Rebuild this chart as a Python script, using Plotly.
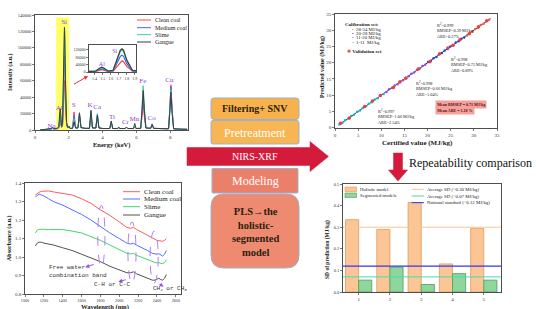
import plotly.graph_objects as go

W, H = 536, 309
def px(x): return x / W
def py(y): return 1 - y / H

SERIF = "Liberation Serif"
MONO = "Liberation Mono"

# ---------------- data: XRF spectra ----------------
xrf_energy = [0.30, 0.85, 0.97, 1.04, 1.11, 1.30, 1.41, 1.46, 1.49, 1.52, 1.57, 1.63, 1.68, 1.72, 1.74, 1.76,
              1.80, 1.87, 1.95, 2.01, 2.07, 2.22, 2.31, 2.40, 2.54, 2.63, 2.72, 2.95, 3.22, 3.31, 3.40, 3.60,
              3.69, 3.78, 4.00, 4.42, 4.51, 4.60, 4.87, 4.95, 5.03, 5.33, 5.41, 5.49, 5.82, 5.90, 5.98, 6.25,
              6.33, 6.40, 6.47, 6.56, 6.84, 6.93, 7.02, 7.50, 7.90, 7.97, 8.04, 8.11, 8.20, 8.60, 9.00]
xrf_clean = [0, 600, 1200, 2500, 1200, 1500, 2500, 9000, 12000, 9000, 3000, 5000, 30000, 55000, 60000, 55000,
             30000, 5000, 2500, 4000, 2000, 2000, 22000, 2500, 2500, 18000, 3000, 2000, 2000, 16000, 2500, 2500,
             17000, 2500, 1800, 1800, 7000, 1800, 1800, 3000, 1800, 1800, 3500, 1800, 1800, 3500, 1800, 2000,
             16000, 32000, 16000, 2500, 2000, 7500, 2000, 1500, 1500, 25000, 55000, 25000, 1500, 1000, 800]
xrf_medium = [0, 600, 1200, 2200, 1200, 1600, 3000, 13000, 17000, 13000, 3500, 6000, 45000, 84000, 90000, 84000,
              45000, 6000, 2500, 4000, 2000, 2000, 18000, 2500, 2500, 19000, 3000, 2000, 2000, 20000, 2500, 2500,
              19000, 2500, 1800, 1800, 9000, 1800, 1800, 3000, 1800, 1800, 3000, 1800, 1800, 4000, 1800, 2000,
              21000, 42000, 21000, 2500, 2000, 7000, 2000, 1500, 1500, 24000, 53000, 24000, 1500, 1000, 800]
xrf_slime = [0, 700, 1500, 2800, 1500, 1800, 3500, 17000, 22000, 17000, 4000, 8000, 60000, 110000, 118000, 110000,
             60000, 8000, 3000, 4500, 2000, 2000, 14000, 2500, 2500, 20000, 3000, 2000, 2000, 23000, 2500, 2500,
             20000, 2500, 1800, 1800, 10000, 1800, 1800, 3000, 1800, 1800, 3000, 1800, 1800, 4000, 1800, 2000,
             27000, 54000, 27000, 2500, 2000, 7000, 2000, 1500, 1500, 22000, 49000, 22000, 1500, 1000, 800]
xrf_gangue = [0, 800, 1800, 3200, 1800, 2000, 4000, 20000, 26000, 20000, 4500, 9000, 64000, 118000, 125000, 118000,
              64000, 9000, 3000, 4500, 2000, 2000, 10000, 2500, 2500, 21000, 3000, 2000, 2000, 24000, 2500, 2500,
              18000, 2500, 1800, 1800, 11000, 1800, 1800, 3000, 1800, 1800, 3500, 1800, 1800, 8000, 1800, 2000,
              24000, 48000, 24000, 2500, 2000, 6500, 2000, 1500, 1500, 20000, 46000, 20000, 1500, 1000, 800]

elem_names = ["Na", "Al", "S", "K", "Ca", "Ti", "Cr", "Mn", "Fe", "Co", "Cu"]
elem_x = [0.98, 1.43, 2.29, 3.25, 3.68, 4.55, 5.35, 5.88, 6.38, 6.9, 7.95]
elem_y = [5000, 26000, 30000, 30000, 28000, 16000, 8900, 13400, 59600, 14200, 60800]

series_names = ["Clean coal", "Medium coal", "Slime", "Gangue"]

# ---------------- data: NIR spectra ----------------
nir_wavelength = [1110, 1130, 1150, 1175, 1200, 1250, 1300, 1400, 1500, 1600, 1700, 1800, 1900, 2000,
                  2080, 2120, 2150, 2180, 2250, 2300, 2350, 2380, 2400, 2420, 2440, 2460, 2480, 2500]
nir_clean = [1.335, 1.345, 1.350, 1.355, 1.357, 1.357, 1.352, 1.345, 1.335, 1.315, 1.290, 1.255, 1.225, 1.190,
             1.160, 1.155, 1.160, 1.150, 1.130, 1.115, 1.100, 1.095, 1.090, 1.088, 1.085, 1.085, 1.090, 1.100]
nir_medium = [1.325, 1.335, 1.340, 1.335, 1.330, 1.315, 1.300, 1.280, 1.255, 1.230, 1.200, 1.165, 1.130, 1.100,
              1.075, 1.070, 1.075, 1.065, 1.050, 1.035, 1.020, 1.015, 1.015, 1.018, 1.010, 1.005, 1.015, 1.035]
nir_slime = [1.130, 1.145, 1.150, 1.152, 1.150, 1.148, 1.148, 1.148, 1.140, 1.130, 1.110, 1.090, 1.065, 1.040,
             1.020, 1.017, 1.020, 1.010, 0.995, 0.985, 0.975, 0.970, 0.968, 0.970, 0.965, 0.965, 0.970, 0.985]
nir_gangue = [1.060, 1.075, 1.080, 1.080, 1.075, 1.070, 1.065, 1.050, 1.035, 1.015, 0.995, 0.975, 0.950, 0.930,
              0.915, 0.915, 0.920, 0.910, 0.895, 0.885, 0.875, 0.875, 0.878, 0.885, 0.878, 0.875, 0.885, 0.905]

# ---------------- data: calibration / validation ----------------
cal_1_11_x = [1.0, 1.6, 2.2, 2.9, 3.5, 4.1, 4.8, 5.4, 6.0, 6.7, 7.3, 7.9, 8.6, 9.2, 9.8, 10.5]
cal_1_11_y = [1.1, 1.5, 2.3, 2.8, 3.6, 4.0, 4.9, 5.3, 6.1, 6.6, 7.4, 7.8, 8.7, 9.1, 9.9, 10.4]
cal_11_20_x = [11.1, 11.7, 12.3, 12.9, 13.5, 14.1, 14.7, 15.3, 15.9, 16.5, 17.1, 17.7, 18.3, 18.9, 19.5]
cal_11_20_y = [11.0, 11.8, 12.2, 13.0, 13.4, 14.2, 14.6, 15.4, 15.8, 16.6, 17.0, 17.8, 18.2, 19.0, 19.4]
cal_20_28_x = [20.1, 20.7, 21.3, 21.9, 22.5, 23.1, 23.7, 24.3, 24.9, 25.5, 26.1, 26.7, 27.3, 27.9]
cal_20_28_y = [20.2, 20.6, 21.4, 21.8, 22.6, 23.0, 23.8, 24.2, 25.0, 25.4, 26.2, 26.6, 27.4, 27.8]
cal_28_34_x = [28.5, 29.1, 29.7, 30.3, 30.9, 31.5, 32.1, 32.7, 33.3]
cal_28_34_y = [28.4, 29.2, 29.6, 30.4, 30.8, 31.6, 32.0, 32.8, 33.2]
val_x = [1.2, 3.1, 6.4, 8.1, 9.8, 12.6, 14.0, 15.3, 18.0, 20.5, 22.6, 24.4, 25.5, 27.0, 29.0, 31.0, 32.8]
val_y = [1.4, 3.0, 6.5, 8.2, 9.9, 12.4, 14.1, 15.2, 18.1, 20.3, 22.8, 24.5, 25.4, 27.1, 28.9, 31.1, 32.9]
ref_line = [0.8, 33.6]

# ---------------- data: repeatability ----------------
bar_samples = [1, 2, 3, 4, 5]
sd_holistic = [0.335, 0.29, 0.415, 0.13, 0.295]
sd_segmented = [0.055, 0.115, 0.035, 0.085, 0.055]
avg_sd_holistic = 0.30
avg_sd_segmented = 0.07
national_standard = 0.12

fig = go.Figure()

# XRF main + inset
xrf_colors = ["#FF4545", "#4F5CFF", "#2ED6A8", "#3C3C3C"]
for vals, c in zip([xrf_clean, xrf_medium, xrf_slime, xrf_gangue], xrf_colors):
    fig.add_trace(go.Scatter(x=xrf_energy, y=vals, mode="lines", line=dict(color=c, width=1),
                             xaxis="x", yaxis="y", showlegend=False, hoverinfo="skip"))
for vals, c in zip([xrf_clean, xrf_medium, xrf_slime, xrf_gangue], xrf_colors):
    fig.add_trace(go.Scatter(x=xrf_energy, y=vals, mode="lines", line=dict(color=c, width=1.2),
                             xaxis="x5", yaxis="y5", showlegend=False, hoverinfo="skip"))
ELEM = "#8A3FD1"
fig.add_trace(go.Scatter(x=elem_x, y=elem_y, mode="text", text=elem_names,
                         textfont=dict(family=SERIF, size=7, color=ELEM),
                         xaxis="x", yaxis="y", showlegend=False, hoverinfo="skip"))
fig.add_trace(go.Scatter(x=[1.72], y=[131000], mode="text", text=["Si"],
                         textfont=dict(family=SERIF, size=7, color=ELEM),
                         xaxis="x", yaxis="y", showlegend=False, hoverinfo="skip"))
fig.add_trace(go.Scatter(x=[1.49, 1.65], y=[38000, 109000], mode="text", text=["Al", "Si"],
                         textfont=dict(family=SERIF, size=6, color=ELEM),
                         xaxis="x5", yaxis="y5", showlegend=False, hoverinfo="skip"))

# NIR
nir_colors = ["#FF5A5A", "#5570FF", "#45D46A", "#505050"]
for vals, c in zip([nir_clean, nir_medium, nir_slime, nir_gangue], nir_colors):
    fig.add_trace(go.Scatter(x=nir_wavelength, y=vals, mode="lines", line=dict(color=c, width=1),
                             xaxis="x2", yaxis="y2", showlegend=False, hoverinfo="skip"))

# Calibration scatter
fig.add_trace(go.Scatter(x=ref_line, y=ref_line, mode="lines", line=dict(color="#1F2F8F", width=1),
                         xaxis="x3", yaxis="y3", showlegend=False, hoverinfo="skip"))
for xs, ys, c in [(cal_1_11_x, cal_1_11_y, "#1FB5B5"), (cal_11_20_x, cal_11_20_y, "#8E4FD6"),
                  (cal_20_28_x, cal_20_28_y, "#2445C8"), (cal_28_34_x, cal_28_34_y, "#E0653A")]:
    fig.add_trace(go.Scatter(x=xs, y=ys, mode="markers", marker=dict(color=c, size=2.5),
                             xaxis="x3", yaxis="y3", showlegend=False, hoverinfo="skip"))
fig.add_trace(go.Scatter(x=val_x, y=val_y, mode="markers",
                         marker=dict(color="#F03C3C", size=3.5, symbol="circle"),
                         xaxis="x3", yaxis="y3", showlegend=False, hoverinfo="skip"))

# Bars
fig.add_trace(go.Bar(x=bar_samples, y=sd_holistic, marker=dict(color="#FBC596", line=dict(color="#E09A5A", width=0.8)),
                     xaxis="x4", yaxis="y4", showlegend=False, hoverinfo="skip", offsetgroup="h"))
fig.add_trace(go.Bar(x=bar_samples, y=sd_segmented, marker=dict(color="#8FD69C", line=dict(color="#4E9A5E", width=0.8)),
                     xaxis="x4", yaxis="y4", showlegend=False, hoverinfo="skip", offsetgroup="s"))
for val, c, w in [(avg_sd_holistic, "#FBC596", 1), (avg_sd_segmented, "#3EE0B0", 1), (national_standard, "#3535F0", 1.3)]:
    fig.add_trace(go.Scatter(x=[0.5, 5.55], y=[val, val], mode="lines", line=dict(color=c, width=w),
                             xaxis="x4", yaxis="y4", showlegend=False, hoverinfo="skip"))

def ax(domain, rng, anchor, size=5, **kw):
    d = dict(domain=domain, range=rng, anchor=anchor, showline=True, linecolor="#222", linewidth=0.8,
             mirror=True, ticks="outside", ticklen=2, tickwidth=0.6, tickcolor="#222", showgrid=False,
             zeroline=False, tickfont=dict(family=SERIF, size=size, color="#333"), fixedrange=True)
    d.update(kw)
    return d

layout = dict(
    width=W, height=H, margin=dict(l=0, r=0, t=0, b=0),
    paper_bgcolor="white", plot_bgcolor="white", template="none",
    barmode="group", bargap=0.16, bargroupgap=0, showlegend=False,
    xaxis=ax([px(35), px(188)], [0, 9.05], "y", tickvals=[0, 2, 4, 6, 8]),
    yaxis=ax([py(130), py(15)], [0, 140000], "x", tickvals=list(range(0, 140001, 20000)), tickformat="d", size=4.5),
    xaxis2=ax([px(25), px(181)], [1000, 2655], "y2", tick0=1000, dtick=200, tickformat="d", size=4.2),
    yaxis2=ax([py(294), py(183)], [0.8, 1.4], "x2", tick0=0.8, dtick=0.1, tickformat=".1f"),
    xaxis3=ax([px(335), px(497)], [0, 35], "y3", dtick=5),
    yaxis3=ax([py(127.7), py(14)], [0, 35], "x3", dtick=5),
    xaxis4=ax([px(343), px(501)], [0.5, 5.55], "y4", tickvals=bar_samples),
    yaxis4=ax([py(292), py(184)], [0, 0.5], "x4", dtick=0.1, tickformat=".1f", size=4.5),
    xaxis5=ax([px(89), px(136)], [1.33, 1.915], "y5", dtick=0.1, tickformat=".1f", size=4),
    yaxis5=ax([py(72), py(45)], [0, 145000], "x5", tickvals=[0, 40000, 80000, 120000], tickformat="d", size=4),
)

def P(points, closed=True):
    s = ""
    for i, (x, y) in enumerate(points):
        s += ("M" if i == 0 else "L") + f"{px(x):.5f},{py(y):.5f} "
    return s + ("Z" if closed else "")

def rrect(x0, y0, x1, y1, r):
    def f(x, y): return f"{px(x):.5f},{py(y):.5f}"
    return (f"M{f(x0 + r, y0)} L{f(x1 - r, y0)} Q{f(x1, y0)} {f(x1, y0 + r)} L{f(x1, y1 - r)} "
            f"Q{f(x1, y1)} {f(x1 - r, y1)} L{f(x0 + r, y1)} Q{f(x0, y1)} {f(x0, y1 - r)} "
            f"L{f(x0, y0 + r)} Q{f(x0, y0)} {f(x0 + r, y0)} Z")

shapes = []
# yellow highlight
shapes.append(dict(type="rect", xref="x", yref="y", x0=1.25, x1=2.02, y0=0, y1=137000,
                   fillcolor="#FFFF55", line=dict(width=0), layer="below", opacity=0.9))
# NIR ellipses
for (a, b, c, d) in [(1772, 1848, 0.945, 1.28), (2092, 2178, 0.86, 1.19), (2327, 2413, 0.86, 1.14)]:
    shapes.append(dict(type="circle", xref="x2", yref="y2", x0=a, x1=b, y0=c, y1=d,
                       line=dict(color="#B57BFF", width=1, dash="dash")))
# flowchart boxes
BORDER = dict(color="#9DB0CC", width=1)
shapes.append(dict(type="path", xref="paper", yref="paper", path=rrect(211, 98, 299, 119.5, 3),
                   fillcolor="#F7B24C", line=BORDER))
shapes.append(dict(type="path", xref="paper", yref="paper", path=rrect(211, 120.5, 299, 144, 2),
                   fillcolor="#F8B553", line=BORDER))
shapes.append(dict(type="path", xref="paper", yref="paper", path=rrect(212, 168.5, 298, 193, 1),
                   fillcolor="#EA806A", line=BORDER))
shapes.append(dict(type="path", xref="paper", yref="paper", path=rrect(211, 194, 299, 268, 13),
                   fillcolor="#EE8A70", line=BORDER))
# red arrows
RED = "#D41B3C"
shapes.append(dict(type="path", xref="paper", yref="paper", fillcolor=RED, line=dict(color=RED, width=0.5),
                   path=P([(187, 147.5), (310, 147.5), (310, 141.5), (328.5, 156.5),
                           (310, 171.5), (310, 165.5), (187, 165.5)])))
shapes.append(dict(type="path", xref="paper", yref="paper", fillcolor=RED, line=dict(color=RED, width=0.5),
                   path=P([(393.5, 153), (402.5, 153), (402.5, 170), (407.5, 170),
                           (398, 181), (388.5, 170), (393.5, 170)])))
# XRF legend lines
for yy, c in zip([20, 27.7, 34.7, 42], xrf_colors):
    shapes.append(dict(type="line", xref="paper", yref="paper", x0=px(137), x1=px(151), y0=py(yy), y1=py(yy),
                       line=dict(color=c, width=1)))
# NIR legend lines
for yy, c in zip([191.7, 199, 206.7, 215], nir_colors):
    shapes.append(dict(type="line", xref="paper", yref="paper", x0=px(123), x1=px(140), y0=py(yy), y1=py(yy),
                       line=dict(color=c, width=1)))
# Bar legend swatches and lines
shapes.append(dict(type="rect", xref="paper", yref="paper", x0=px(345), x1=px(356.5), y0=py(191.5), y1=py(187),
                   fillcolor="#FBC596", line=dict(color="#E09A5A", width=0.6)))
shapes.append(dict(type="rect", xref="paper", yref="paper", x0=px(345), x1=px(356.5), y0=py(197.5), y1=py(193),
                   fillcolor="#8FD69C", line=dict(color="#4E9A5E", width=0.6)))
for yy, c in zip([189.3, 196, 202.7], ["#FBC596", "#3EE0B0", "#3535F0"]):
    shapes.append(dict(type="line", xref="paper", yref="paper", x0=px(411.5), x1=px(424), y0=py(yy), y1=py(yy),
                       line=dict(color=c, width=1)))
layout["shapes"] = shapes

anns = []
def A(x, y, text, size=6, color="#222", xanchor="center", yanchor="middle", family=SERIF, angle=0, align="left", **kw):
    d = dict(x=px(x), y=py(y), xref="paper", yref="paper", text=text, showarrow=False, xanchor=xanchor,
             yanchor=yanchor, font=dict(family=family, size=size, color=color), textangle=angle, align=align)
    d.update(kw)
    anns.append(d)

# XRF titles and legend
A(10, 72, "<b>Intensity (a.u.)</b>", 6, angle=-90)
A(111, 145, "<b>Energy (keV)</b>", 6.5)
for yy, n in zip([20, 27.7, 34.7, 42], series_names):
    A(152.5, yy, n, 6, xanchor="left")
anns.append(dict(x=px(88), y=py(76), xref="paper", yref="paper", ax=-17, ay=10, showarrow=True,
                 arrowhead=2, arrowsize=0.8, arrowwidth=1, arrowcolor="#E8302E", text=" "))
# NIR titles and legend
A(9, 238, "<b>Absorbance (a.u.)</b>", 6, angle=-90)
A(105, 306.5, "<b>Wavelength (nm)</b>", 6.5)
for yy, n in zip([191.7, 199, 206.7, 215], series_names):
    A(142, yy, n, 7, xanchor="left")
anns.append(dict(x=1230, y=0.924, xref="x2", yref="y2", text="Free water<br>combination band", showarrow=False,
                 xanchor="left", align="left", font=dict(family=MONO, size=6, color="#333")))
anns.append(dict(x=1920, y=0.852, xref="x2", yref="y2", text="C-H or C-C", showarrow=False,
                 font=dict(family=MONO, size=6, color="#333")))
anns.append(dict(x=2335, y=0.83, xref="x2", yref="y2", text="CH<sub>2</sub> or CH<sub>3</sub>", showarrow=False,
                 xanchor="left", font=dict(family=MONO, size=6, color="#333")))
for (hx, hy, tx, ty) in [(1640, 0.944, 1760, 0.966), (1990, 0.866, 2100, 0.882), (2470, 0.84, 2395, 0.862)]:
    anns.append(dict(x=hx, y=hy, ax=tx, ay=ty, xref="x2", yref="y2", axref="x2", ayref="y2", text=" ",
                     showarrow=True, arrowhead=2, arrowsize=0.8, arrowwidth=1, arrowcolor="#9B4BF0"))
# Scatter texts
A(322, 67, "<b>Predicted value (MJ/kg)</b>", 6, angle=-90)
A(417, 143, "<b>Certified value (MJ/kg)</b>", 7)
A(362, 24.5, "<b>Calibration set:</b>", 5)
for yy, c, t in zip([29, 33.5, 38, 42.5], ["#E0653A", "#2445C8", "#8E4FD6", "#1FB5B5"],
                    ["28-34 MJ/kg", "20-28 MJ/kg", "11-20 MJ/kg", "1-11  MJ/kg"]):
    A(350, yy, f'<span style="color:{c}">•</span>  {t}', 4.8, xanchor="left")
A(345, 51.5, '<span style="color:#F03C3C">✱</span> <b>Validation set</b>', 5, xanchor="left")
for (x0, y0, r2, rm, ar) in [(435, 20, "0.999", "0.39", "0.27%"), (449, 54, "0.998", "0.75", "0.89%"),
                             (414, 78, "0.998", "0.66", "1.04%"), (376, 106, "0.997", "1.06", "2.54%")]:
    A(x0, y0, f"R<sup>2</sup>={r2}<br>RMSEP={rm} MJ/kg<br>ARE={ar}", 4.3, xanchor="left", yanchor="top")
A(435, 104, "<b>Mean RMSEP = 0.71 MJ/kg</b>", 4, color="#5A1010", xanchor="left", bgcolor="#F3A19C", borderpad=1.2)
A(435, 110.7, "<b>Mean ARE = 1.18 %</b>", 4, color="#5A1010", xanchor="left", bgcolor="#F3A19C", borderpad=1.2)
# Bar texts
A(327, 250, "<b>SD of prediction (MJ/kg)</b>", 5.5, angle=-90)
A(358, 189.3, "Holistic model", 4.8, xanchor="left")
A(358, 195.3, "Segmented models", 4.8, xanchor="left")
A(425, 189.3, "Average SD (~0.30 MJ/kg)", 4.8, xanchor="left")
A(425, 196, "Average SD (~0.07 MJ/kg)", 4.8, xanchor="left")
A(425, 202.7, "National standard (~0.12 MJ/kg)", 4.8, xanchor="left")
A(407, 163, "Repeatability comparison", 12, color="#111", xanchor="left")
# Flowchart texts
A(255, 109, "<b>Filtering+ SNV</b>", 10, color="#2B1F10")
A(255, 132.5, "Pretreatment", 12, color="white")
A(255, 156.5, "NIRS-XRF", 10, color="white")
A(255, 181, "Modeling", 12, color="white")
A(255, 232, "<b>PLS→the<br>holistic-<br>segmented<br>model</b>", 10.5, color="#2B1F10", align="center")
layout["annotations"] = anns

fig.update_layout(**layout)
fig.write_html("out.html", config={"displayModeBar": False, "staticPlot": True},
               post_script="document.body.style.margin='0px';document.body.style.padding='0px';")
